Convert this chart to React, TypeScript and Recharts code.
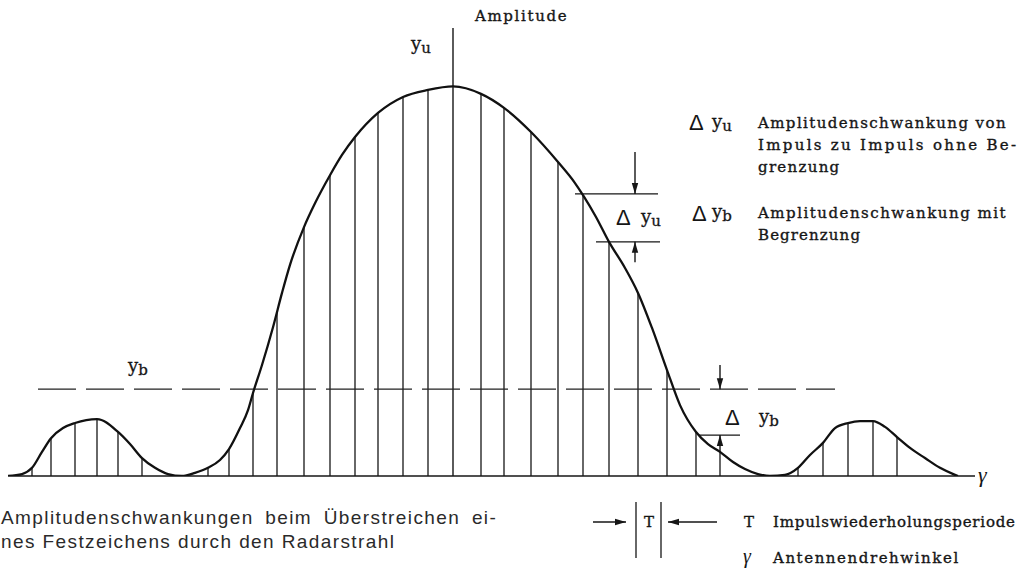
import React from "react";
import { ComposedChart, Line, ReferenceLine, XAxis, YAxis } from "recharts";

// envelope of the antenna pattern: [angle, amplitude]
const curveAngle = [
  -44.5, -43.1, -42.1, -41.1, -40.2, -39.0, -37.8, -35.6, -33.5, -32.3, -31.1, -29.8, -28.5, -27.1,
  -25.8, -24.5, -23.3, -22.4, -21.3, -20.5, -20.0, -19.1, -18.0, -17.1, -16.3, -14.9, -13.8, -12.3,
  -11.1, -9.8, -7.5, -5.0, -2.5, 0, 2.8, 5.1, 7.8, 10.5, 12.2, 13.0, 14.3, 15.6, 17.2, 18.5, 19.9,
  21.4, 22.7, 24.3, 25.5, 26.7, 28.0, 29.2, 30.5, 31.7, 33.2, 34.5, 35.7, 37.0, 38.2, 39.5, 40.7,
  42.0, 43.2, 44.4, 45.7, 47.2, 48.7, 50.2, 50.5,
];
const curveAmp = [
  0, 0.5, 2.1, 6.2, 9.7, 12.3, 13.6, 14.6, 11.3, 8.2, 4.6, 2.1, 0.5, 0, 0.8, 2.1, 4.1, 6.9, 12.3,
  16.9, 21.3, 28.5, 38.2, 47.0, 54.2, 63.9, 70.0, 77.2, 82.4, 87.0, 93.2, 97.3, 99.1, 100, 98.1,
  94.5, 88.3, 80.6, 75.2, 72.1, 66.5, 60.1, 53.4, 47.0, 38.0, 27.2, 18.2, 11.3, 8.2, 6.2, 3.6, 1.8,
  0.5, 0, 0.3, 2.1, 5.4, 8.5, 12.3, 13.6, 14.1, 14.1, 12.6, 10.0, 7.2, 4.6, 2.1, 0.3, 0,
];

// individual echo pulses: [angle, amplitude]
const pulseAngle = [
  -42.1, -40.2, -37.8, -35.6, -33.5, -31.1, -24.5, -22.4, -20.0, -17.6, -14.9, -12.3, -9.8, -7.5,
  -5.0, -2.5, 2.8, 5.1, 7.8, 10.5, 13.0, 15.6, 18.5, 21.4, 24.3, 26.7, 34.5, 37.0, 39.5, 42.0, 44.4,
];
const pulseAmp = [
  2.1, 9.7, 13.6, 14.6, 11.3, 4.6, 2.1, 6.9, 21.3, 42.1, 63.9, 77.2, 87.0, 93.2, 97.3, 99.1, 98.1,
  94.5, 88.3, 80.6, 72.1, 60.1, 47.0, 27.2, 11.3, 6.2, 2.1, 8.5, 13.6, 14.1, 10.0,
];

// limiting level and the two fluctuation markers
const limitLevel = 22.3;
const limitSpan = [-41.5, 38.2];
const duUpper = 72.4;
const duLower = 60.1;
const dbLower = 10.5;

const curveData = curveAngle.map((a, i) => ({ angle: a, amp: curveAmp[i] }));
const pulses = pulseAngle.map((a, i) => ({ angle: a, amp: pulseAmp[i] }));

const INK = "#161616";
const TYPE = '"DejaVu Serif", "Liberation Serif", serif';
const SANS = '"Liberation Sans", Arial, sans-serif';
const PITCH = 10.4; // typewriter character pitch

function arrowPath(x1: number, y1: number, x2: number, y2: number, len = 11, half = 3.2) {
  const dx = x2 - x1;
  const dy = y2 - y1;
  const d = Math.hypot(dx, dy) || 1;
  const ux = dx / d;
  const uy = dy / d;
  const bx = x2 - ux * len;
  const by = y2 - uy * len;
  return `M${x2},${y2} L${bx - uy * half},${by + ux * half} L${bx + uy * half},${by - ux * half} Z`;
}

function Arrow({ x1, y1, x2, y2 }: { x1: number; y1: number; x2: number; y2: number }) {
  return (
    <g>
      <line x1={x1} y1={y1} x2={x2} y2={y2} stroke={INK} strokeWidth={1.4} />
      <path d={arrowPath(x1, y1, x2, y2)} fill={INK} />
    </g>
  );
}

const arrowShape = (p: any) => <Arrow x1={p.x1} y1={p.y1} x2={p.x2} y2={p.y2} />;

function Sym({ x, y, sub, size = 18 }: { x: number; y: number; sub: string; size?: number }) {
  return (
    <text x={x} y={y} fontFamily={TYPE} fontSize={size} fill={INK} stroke={INK} strokeWidth={0.3}>
      y
      <tspan dy={3} fontSize={size - 3}>
        {sub}
      </tspan>
    </text>
  );
}

function Delta({ x, y }: { x: number; y: number }) {
  return (
    <text x={x} y={y} fontFamily={SANS} fontSize={22} fill={INK}>
      Δ
    </text>
  );
}

// serif text spread to a fixed pitch, like a typewriter line
function Type({ x, y, text, width }: { x: number; y: number; text: string; width?: number }) {
  return (
    <text
      x={x}
      y={y}
      fontFamily={TYPE}
      fontSize={15}
      fill={INK}
      stroke={INK}
      strokeWidth={0.35}
      textLength={width ?? text.length * PITCH - 2}
      lengthAdjust="spacing"
    >
      {text}
    </text>
  );
}

export default function App() {
  return (
    <div style={{ position: "absolute", left: 0, top: 0, width: 1019, height: 568, background: "#fff" }}>
      <ComposedChart
        width={1019}
        height={568}
        data={curveData}
        margin={{ top: 28, right: 44, bottom: 92, left: 8 }}
      >
        <XAxis type="number" dataKey="angle" domain={[-44.5, 52.2]} hide allowDataOverflow />
        <YAxis type="number" domain={[0, 115]} hide allowDataOverflow />

        <ReferenceLine y={0} stroke={INK} strokeWidth={1.4} />
        <ReferenceLine x={0} stroke={INK} strokeWidth={1.4} />

        {pulses.map((p) => (
          <ReferenceLine
            key={p.angle}
            segment={[
              { x: p.angle, y: 0 },
              { x: p.angle, y: p.amp },
            ]}
            stroke={INK}
            strokeWidth={1.3}
          />
        ))}

        <ReferenceLine
          segment={[
            { x: limitSpan[0], y: limitLevel },
            { x: limitSpan[1], y: limitLevel },
          ]}
          stroke="#222"
          strokeWidth={1.3}
          strokeDasharray="38 10"
        />

        {/* Δyu markers */}
        <ReferenceLine segment={[{ x: 12.2, y: duUpper }, { x: 20.5, y: duUpper }]} stroke={INK} strokeWidth={1.3} />
        <ReferenceLine segment={[{ x: 14.3, y: duLower }, { x: 20.7, y: duLower }]} stroke={INK} strokeWidth={1.3} />
        <ReferenceLine segment={[{ x: 18.2, y: 83.2 }, { x: 18.2, y: duUpper }]} shape={arrowShape} />
        <ReferenceLine segment={[{ x: 18.2, y: 54.9 }, { x: 18.2, y: duLower }]} shape={arrowShape} />

        {/* Δyb markers */}
        <ReferenceLine segment={[{ x: 24.6, y: dbLower }, { x: 28.7, y: dbLower }]} stroke={INK} strokeWidth={1.3} />
        <ReferenceLine segment={[{ x: 26.7, y: 28.5 }, { x: 26.7, y: limitLevel }]} shape={arrowShape} />
        <ReferenceLine segment={[{ x: 26.7, y: 6.2 }, { x: 26.7, y: dbLower }]} shape={arrowShape} />

        <Line
          dataKey="amp"
          type="monotone"
          dot={false}
          stroke="#111"
          strokeWidth={2.3}
          isAnimationActive={false}
        />
      </ComposedChart>

      <svg
        width={1019}
        height={568}
        style={{ position: "absolute", left: 0, top: 0, pointerEvents: "none" }}
      >
        <Type x={475} y={21} text="Amplitude" />
        <Sym x={411} y={50} sub="u" />
        <Sym x={128} y={372} sub="b" />

        <Delta x={616} y={225} />
        <Sym x={641} y={223} sub="u" />
        <Delta x={725} y={425} />
        <Sym x={759} y={423} sub="b" />

        <Delta x={689} y={130} />
        <Sym x={712} y={128} sub="u" />
        <Type x={758} y={128} text="Amplitudenschwankung von" />
        <Type x={758} y={150} text="Impuls zu Impuls ohne Be-" />
        <Type x={758} y={172} text="grenzung" />
        <Delta x={692} y={221} />
        <Sym x={712} y={218} sub="b" />
        <Type x={758} y={218} text="Amplitudenschwankung mit" />
        <Type x={758} y={240} text="Begrenzung" />

        <text x={978} y={482} fontFamily='"Liberation Serif", serif' fontStyle="italic" fontSize={22} fill={INK}>
          γ
        </text>

        <Arrow x1={593} y1={522} x2={626} y2={522} />
        <line x1={636} y1={502} x2={636} y2={558} stroke={INK} strokeWidth={1.3} />
        <line x1={661} y1={502} x2={661} y2={558} stroke={INK} strokeWidth={1.3} />
        <Type x={644} y={527} text="T" />
        <Arrow x1={717} y1={522} x2={668} y2={522} />
        <Type x={744} y={527} text="T" />
        <Type x={773} y={527} text="Impulswiederholungsperiode" width={242} />
        <text x={743} y={563} fontFamily='"Liberation Serif", serif' fontStyle="italic" fontSize={20} fill={INK}>
          γ
        </text>
        <Type x={773} y={563} text="Antennendrehwinkel" />

        <g fontFamily={SANS} fontSize={19} fill="#2a2a2a" letterSpacing={1.4}>
          <text x={1} y={524} wordSpacing={5}>
            Amplitudenschwankungen beim Überstreichen ei-
          </text>
          <text x={1} y={548}>
            nes Festzeichens durch den Radarstrahl
          </text>
        </g>
      </svg>
    </div>
  );
}
